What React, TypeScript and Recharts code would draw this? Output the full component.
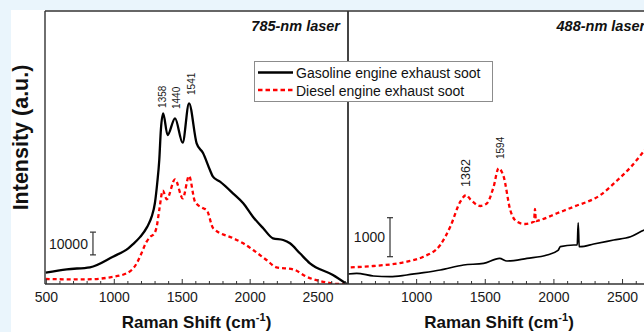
import React from "react";
import { LineChart, Line, XAxis, YAxis, ReferenceLine, ReferenceDot } from "recharts";

// Raman spectra, [wavenumber cm-1, intensity a.u.]
const gasoline785: [number, number][] = [
  [495, 4967], [650, 6462], [821, 7341], [990, 12000], [1103, 15690], [1138, 17500],
  [1189, 20600], [1241, 25000], [1275, 29583], [1299, 35604], [1316, 44396], [1331, 54505],
  [1343, 68000], [1360, 75033], [1392, 65451], [1447, 72835], [1503, 62110], [1550, 79430],
  [1606, 61846], [1653, 57582], [1704, 50110], [1726, 47165], [1778, 44967], [1873, 39868],
  [1949, 35472], [2020, 29583], [2096, 24483], [2168, 20088], [2243, 19341], [2293, 17890],
  [2366, 13494], [2440, 9099], [2609, 3956], [2710, 0],
];

const diesel785: [number, number][] = [
  [495, 2198], [650, 2066], [797, 2066], [969, 2945], [1091, 4703], [1165, 9099],
  [1189, 12000], [1238, 18594], [1263, 20660], [1292, 21978], [1312, 25187], [1331, 32528],
  [1357, 41011], [1386, 37231], [1447, 46022], [1504, 37670], [1550, 47472], [1594, 36176],
  [1654, 33275], [1680, 32528], [1728, 24483], [1875, 20088], [1949, 17890], [2022, 14945],
  [2120, 10549], [2193, 7341], [2316, 6462], [2414, 3209], [2561, 700], [2650, 0], [2720, 0],
];

const gasoline488: [number, number][] = [
  [502, 256], [563, 274], [685, 205], [807, 188], [928, 231], [1050, 290], [1172, 359],
  [1342, 487], [1488, 530], [1604, 658], [1658, 590], [1804, 658], [1950, 744], [2030, 860],
  [2047, 957], [2145, 1000], [2170, 1000], [2177, 1570], [2184, 960], [2193, 957],
  [2290, 1026], [2436, 1128], [2558, 1213], [2661, 1385], [2700, 1420],
];

const diesel488: [number, number][] = [
  [520, 428], [685, 462], [928, 572], [1050, 700], [1172, 1000], [1245, 1469], [1318, 2110],
  [1361, 2282], [1391, 2172], [1464, 2000], [1512, 2069], [1561, 2495], [1597, 2967],
  [1634, 2751], [1682, 1897], [1731, 1597], [1790, 1538], [1855, 1600], [1862, 1923],
  [1869, 1610], [1901, 1641], [2023, 1813], [2145, 1982], [2339, 2282], [2450, 2620],
  [2560, 3000], [2661, 3436], [2700, 3620],
];

const xTicks = [
  500, 600, 700, 800, 900, 1000, 1100, 1200, 1300, 1400, 1500, 1600,
  1700, 1800, 1900, 2000, 2100, 2200, 2300, 2400, 2500, 2600, 2700,
];
const leftTickLabels = [500, 1000, 1500, 2000, 2500];
const rightTickLabels = [1000, 1500, 2000, 2500];

// peak annotations: text, x, y (anchor = bottom of the rotated label)
const peaks785 = [
  { text: "1358", x: 1358, y: 77400 },
  { text: "1440", x: 1460, y: 76900 },
  { text: "1541", x: 1570, y: 83100 },
];
const peaks488 = [
  { text: "1362", x: 1361, y: 2490, big: true },
  { text: "1594", x: 1613, y: 3205, big: false },
];

// intensity scale bars
const scale785 = { x: 843, from: 12800, to: 22800, text: "10000" };
const scale488 = { x: 806, from: 700, to: 1700, text: "1000" };

const FONT = "'Liberation Sans', Arial, Helvetica, sans-serif";
const AXIS = "#333";
const RED = "#ff0000";

const pts = (arr: [number, number][]) => arr.map(([x, y]) => ({ x, y }));

function makeTick(labels: number[]) {
  return (props: any) => {
    const { x, y, payload } = props;
    const v = payload.value;
    const major = v % 500 === 0;
    return (
      <g>
        <line x1={x} x2={x} y1={y} y2={y - (major ? 5 : 3)} stroke={AXIS} strokeWidth={1} />
        {labels.includes(v) && (
          <text x={x} y={y + 18} textAnchor="middle" fontSize={14} fontFamily={FONT} fill="#1a1a1a">
            {v}
          </text>
        )}
      </g>
    );
  };
}

const xTitle = (props: any) => {
  const vb = props.viewBox;
  return (
    <text x={vb.x + vb.width / 2} y={vb.y + 44} textAnchor="middle" fontSize={17} fontWeight="bold" fontFamily={FONT} fill="#111">
      Raman Shift (cm<tspan dy={-7} fontSize={11}>-1</tspan>
      <tspan dy={7}>)</tspan>
    </text>
  );
};

const panelTitle = (text: string, alignRight: boolean) => (props: any) => {
  const vb = props.viewBox;
  return (
    <text
      x={alignRight ? vb.x + vb.width - 8 : vb.x + 208.5}
      y={vb.y + vb.height + 19.5}
      textAnchor={alignRight ? "end" : "start"}
      fontSize={14.5}
      fontWeight="bold"
      fontStyle="italic"
      fontFamily={FONT}
      fill="#111"
    >
      {text}
    </text>
  );
};

const yTitle = (props: any) => {
  const vb = props.viewBox;
  const cy = vb.y + vb.height / 2 - 10;
  return (
    <text transform={`translate(28,${cy}) rotate(-90)`} textAnchor="middle" fontSize={21.5} fontWeight="bold" fontFamily={FONT} fill="#111">
      Intensity (a.u.)
    </text>
  );
};

const peakLabel = (text: string, size: number) => (p: any) => (
  <text
    transform={`translate(${p.cx},${p.cy}) rotate(-90)`}
    textAnchor="start"
    dominantBaseline="central"
    fontSize={size}
    fontFamily={FONT}
    fill="#1a1a1a"
  >
    {text}
  </text>
);

const scaleBar = (text: string) => (p: any) => {
  const { x1, y1, y2 } = p;
  return (
    <g>
      <line x1={x1} x2={x1} y1={y1} y2={y2} stroke={AXIS} strokeWidth={1.2} />
      <line x1={x1 - 3} x2={x1 + 3} y1={y1} y2={y1} stroke={AXIS} strokeWidth={1.2} />
      <line x1={x1 - 3} x2={x1 + 3} y1={y2} y2={y2} stroke={AXIS} strokeWidth={1.2} />
      <text x={x1 - 5} y={(y1 + y2) / 2} textAnchor="end" dominantBaseline="central" fontSize={14} fontFamily={FONT} fill="#1a1a1a">
        {text}
      </text>
    </g>
  );
};

const border = { stroke: AXIS, strokeWidth: 1.4 };

function Panel(props: {
  width: number;
  margin: { top: number; right: number; bottom: number; left: number };
  xDomain: [number, number];
  yDomain: [number, number];
  labels: number[];
  title: string;
  titleRight: boolean;
  gasoline: [number, number][];
  diesel: [number, number][];
  blackWidth: number;
  peaks: { text: string; x: number; y: number; big?: boolean }[];
  peakSize: number;
  scale: { x: number; from: number; to: number; text: string };
  showYTitle: boolean;
}) {
  // axes take 1px each; margins are given for the plot box edges
  const m = props.margin;
  const margin = { top: m.top - 1, right: m.right - 1, bottom: m.bottom - 1, left: m.left - 1 };
  return (
    <LineChart width={props.width} height={332} margin={margin}>
      <XAxis
        xAxisId="b"
        dataKey="x"
        type="number"
        domain={props.xDomain}
        ticks={xTicks}
        interval={0}
        tickSize={0}
        tickMargin={0}
        tickLine={false}
        tick={makeTick(props.labels)}
        axisLine={border}
        height={1}
        allowDataOverflow
        label={xTitle}
      />
      <XAxis
        xAxisId="t"
        dataKey="x"
        orientation="top"
        type="number"
        domain={props.xDomain}
        tick={false}
        tickLine={false}
        axisLine={border}
        height={1}
        label={panelTitle(props.title, props.titleRight)}
      />
      <YAxis
        yAxisId="l"
        type="number"
        domain={props.yDomain}
        tick={false}
        tickLine={false}
        axisLine={border}
        width={1}
        allowDataOverflow
        label={props.showYTitle ? yTitle : undefined}
      />
      <YAxis yAxisId="r" orientation="right" type="number" domain={props.yDomain} tick={false} tickLine={false} axisLine={border} width={1} />
      <Line
        xAxisId="b"
        yAxisId="l"
        data={pts(props.diesel)}
        dataKey="y"
        type="monotone"
        stroke={RED}
        strokeWidth={2.3}
        strokeDasharray="4 3"
        dot={false}
        activeDot={false}
        isAnimationActive={false}
      />
      <Line
        xAxisId="b"
        yAxisId="l"
        data={pts(props.gasoline)}
        dataKey="y"
        type="monotone"
        stroke="#000"
        strokeWidth={props.blackWidth}
        dot={false}
        activeDot={false}
        isAnimationActive={false}
      />
      {props.peaks.map((p) => (
        <ReferenceDot
          key={p.text}
          xAxisId="b"
          yAxisId="l"
          x={p.x}
          y={p.y}
          r={0}
          shape={peakLabel(p.text, p.big ? 12.5 : props.peakSize)}
        />
      ))}
      <ReferenceLine
        xAxisId="b"
        yAxisId="l"
        segment={[
          { x: props.scale.x, y: props.scale.from },
          { x: props.scale.x, y: props.scale.to },
        ]}
        shape={scaleBar(props.scale.text)}
      />
    </LineChart>
  );
}

export default function App() {
  return (
    <div style={{ position: "fixed", left: 0, top: 0, width: 644, height: 332, overflow: "hidden", background: "#eaf5fc" }}>
      <div style={{ position: "absolute", left: 11, top: 10, right: 0, bottom: 0, background: "#fff" }} />
      <div style={{ position: "absolute", left: 0, top: 0 }}>
        <Panel
          width={644}
          margin={{ top: 11, right: 296, bottom: 48, left: 45 }}
          xDomain={[490, 2720]}
          yDomain={[0, 120000]}
          labels={leftTickLabels}
          title="785-nm laser"
          titleRight
          gasoline={gasoline785}
          diesel={diesel785}
          blackWidth={2.3}
          peaks={peaks785}
          peakSize={10}
          scale={scale785}
          showYTitle
        />
      </div>
      <div style={{ position: "absolute", left: 0, top: 0 }}>
        <Panel
          width={660}
          margin={{ top: 11, right: 10, bottom: 48, left: 348 }}
          xDomain={[500, 2700]}
          yDomain={[0, 7000]}
          labels={rightTickLabels}
          title="488-nm laser"
          titleRight={false}
          gasoline={gasoline488}
          diesel={diesel488}
          blackWidth={1.7}
          peaks={peaks488}
          peakSize={10}
          scale={scale488}
          showYTitle={false}
        />
      </div>
      <div
        style={{
          position: "absolute",
          left: 254,
          top: 61,
          width: 237,
          height: 39,
          border: "1px solid #8c8c8c",
          background: "#fff",
        }}
      >
        <svg width={237} height={39} style={{ display: "block" }}>
          <line x1={3} x2={38} y1={10.5} y2={10.5} stroke="#000" strokeWidth={2.3} />
          <text x={41} y={15.7} fontSize={14} fontFamily={FONT} fill="#111">
            Gasoline engine exhaust soot
          </text>
          <line x1={3} x2={38} y1={28} y2={28} stroke={RED} strokeWidth={2.3} strokeDasharray="4.5 3" />
          <text x={41} y={33.5} fontSize={14} fontFamily={FONT} fill="#111">
            Diesel engine exhaust soot
          </text>
        </svg>
      </div>
    </div>
  );
}
